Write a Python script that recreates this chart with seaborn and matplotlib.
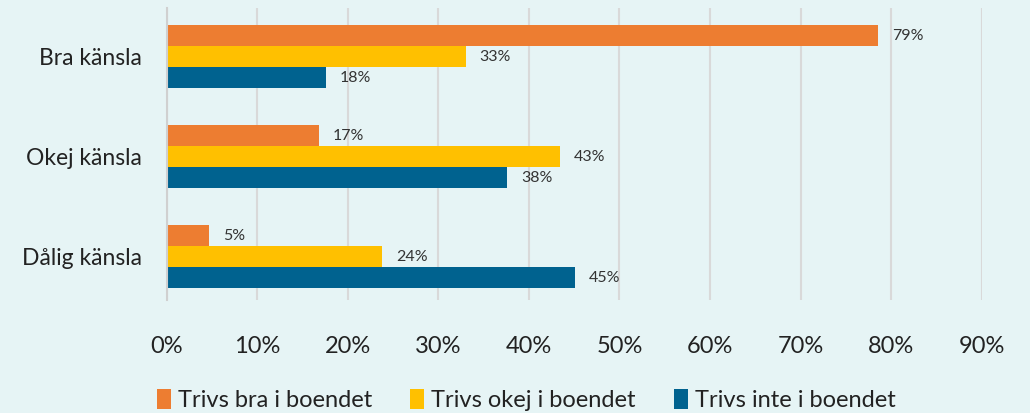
import seaborn as sns
import pandas as pd
import matplotlib.pyplot as plt

categories = ["Bra känsla", "Okej känsla", "Dålig känsla"]
series = ["Trivs bra i boendet", "Trivs okej i boendet", "Trivs inte i boendet"]
trivs_bra = [78.6, 16.8, 4.7]
trivs_okej = [33.0, 43.4, 23.8]
trivs_inte = [17.6, 37.6, 45.1]
x_ticks = [0, 10, 20, 30, 40, 50, 60, 70, 80, 90]

colors = ["#ED7D31", "#FFC000", "#00628F"]
bg = "#E6F4F5"

rows = []
for s, vals in zip(series, [trivs_bra, trivs_okej, trivs_inte]):
    for c, v in zip(categories, vals):
        rows.append({"kat": c, "serie": s, "värde": v})
df = pd.DataFrame(rows)

sns.set_style("white")
plt.rcParams['font.family'] = ['Lato', 'DejaVu Sans']

fig = plt.figure(figsize=(10.3, 4.13), dpi=100, facecolor=bg)
ax = fig.add_axes([0.162, 0.274, 0.791, 0.707])
ax.set_facecolor(bg)

sns.barplot(data=df, y="kat", x="värde", hue="serie", orient="h",
            palette=colors, saturation=1, width=0.63, gap=0, linewidth=0,
            ax=ax, legend=True)

for cont in ax.containers:
    ax.bar_label(cont, labels=["%d%%" % round(v) for v in cont.datavalues],
                 padding=10, fontsize=11.5, color="#333333")

ax.set_xlim(0, 90)
ax.set_ylim(2.43, -0.49)
ax.set_xticks(x_ticks)
ax.set_xticklabels(["%d%%" % t for t in x_ticks], fontsize=17, color="#222222")
ax.tick_params(axis="x", pad=26, length=0)
ax.tick_params(axis="y", pad=18, length=0, labelsize=16.5, labelcolor="#222222")
ax.set_xlabel("")
ax.set_ylabel("")
ax.grid(axis="x", color="#D9D9D9", linewidth=1.5)
ax.set_axisbelow(True)
for side in ["top", "right", "bottom"]:
    ax.spines[side].set_visible(False)
ax.spines["left"].set_color("#D0D0D0")
ax.spines["left"].set_linewidth(1.5)
ax.spines["left"].set_zorder(3)

ax.legend(loc="center", bbox_to_anchor=(0.441, -0.344), ncol=3, frameon=False,
          fontsize=17, handlelength=0.6, handleheight=0.9, handletextpad=0.3,
          columnspacing=1.6, labelcolor="#222222")

fig.savefig("out.png", dpi=100, facecolor=bg)
